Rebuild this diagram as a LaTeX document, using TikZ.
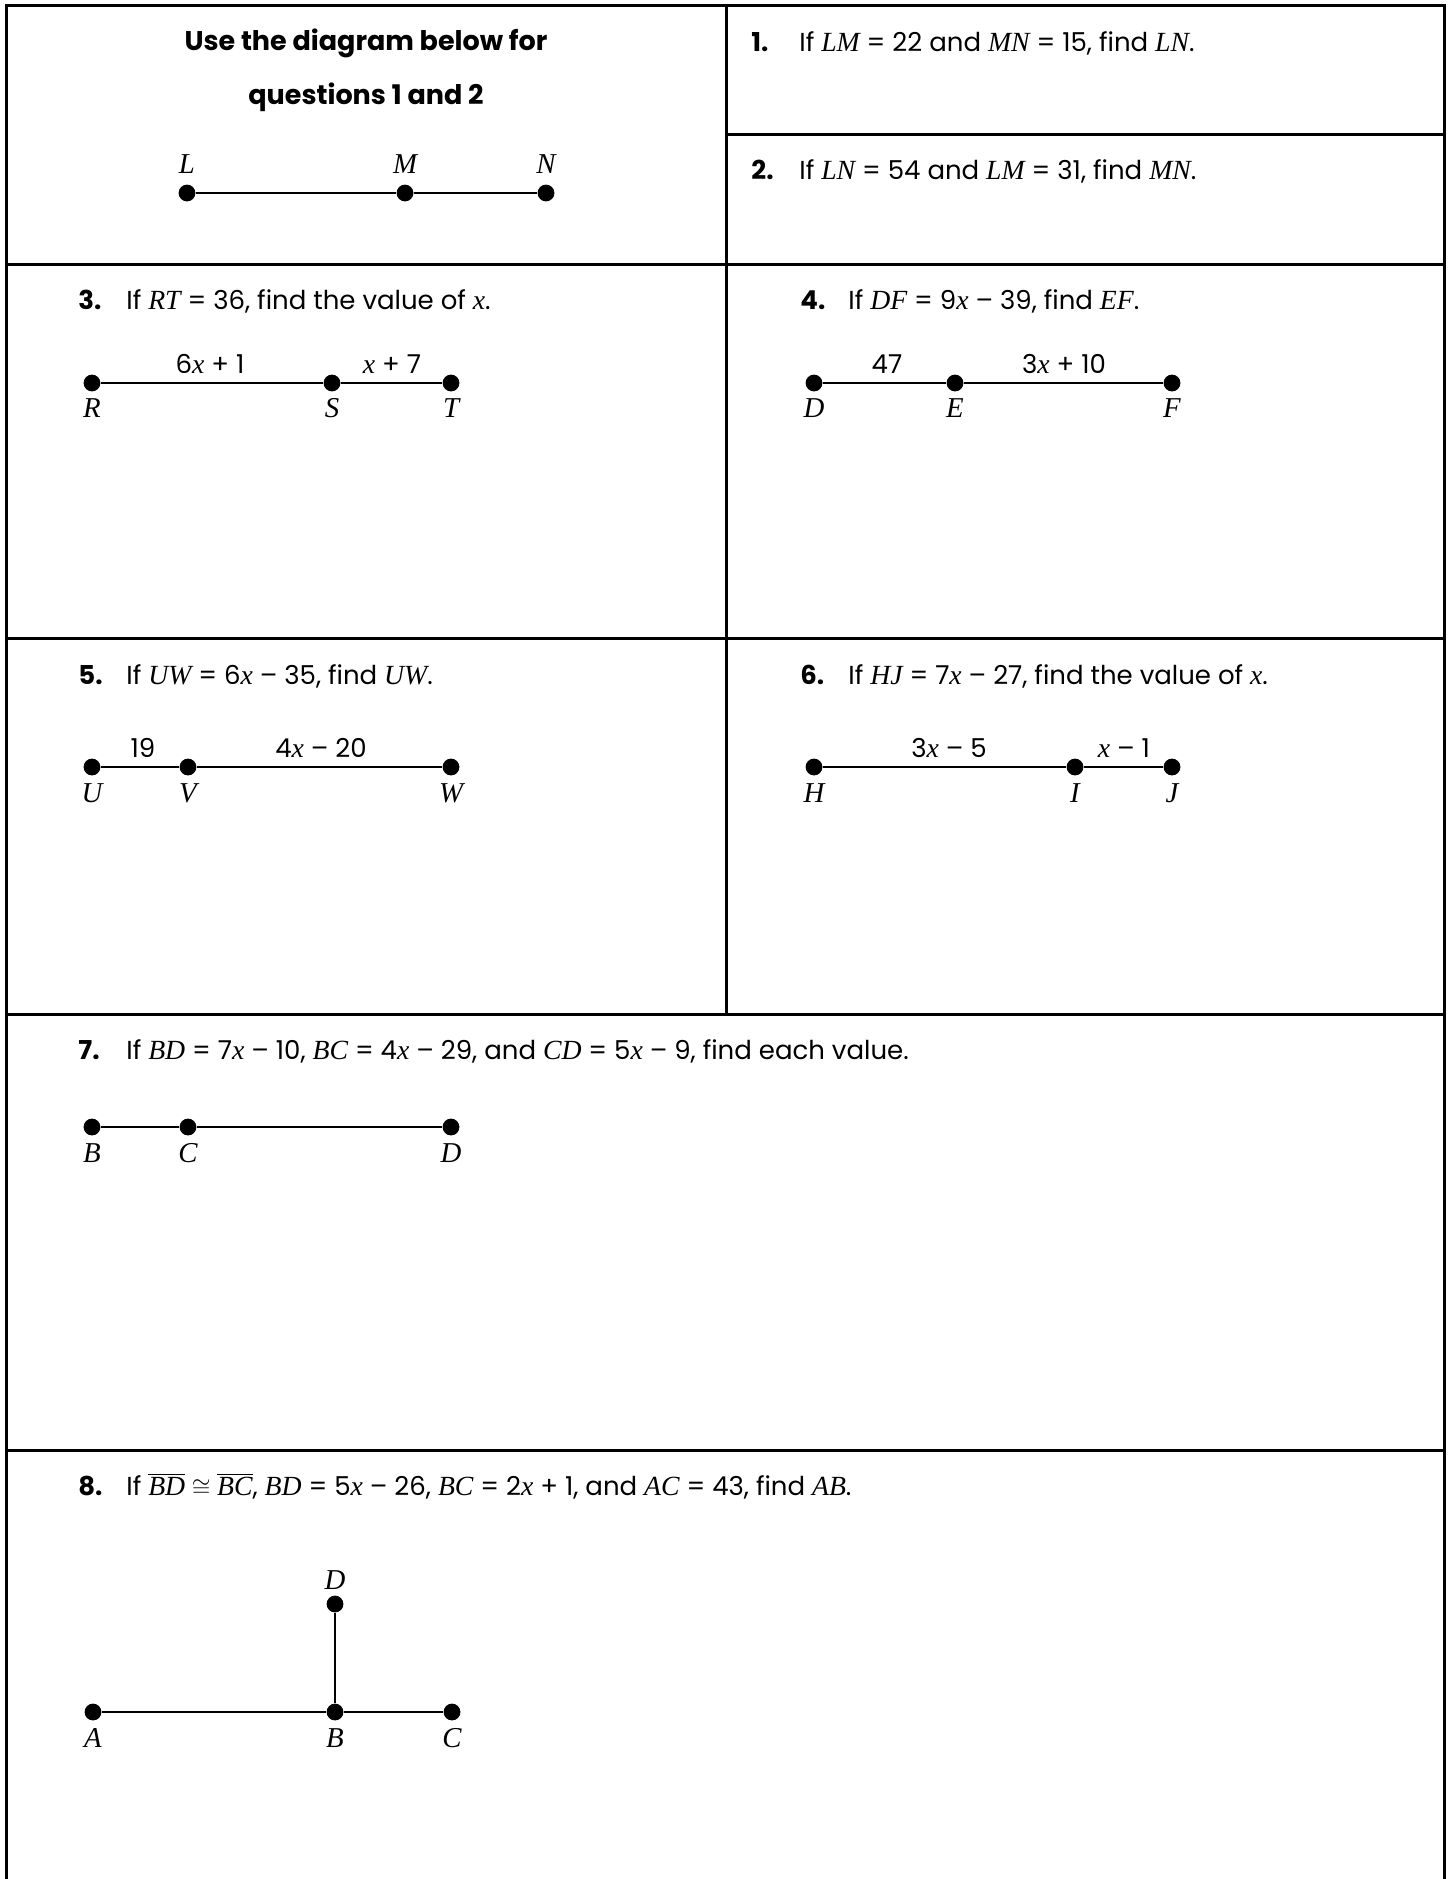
\documentclass[tikz,border=0pt]{standalone}
\usepackage{fontspec}
\setmainfont{Poppins}
\newfontfamily\varfont[Scale=MatchUppercase]{Liberation Serif}
\usetikzlibrary{positioning}
\newcommand{\var}[1]{{\varfont\itshape #1}}
\newcommand{\qnum}[1]{\makebox[24pt][l]{\bfseries #1}}

\begin{document}
\begin{tikzpicture}[x=0.5pt,y=-0.5pt,
        grid/.style={line width=1.5pt},
        dot/.style={circle,fill=black,inner sep=0pt,minimum size=8.4pt},
        seg/.style={line width=1pt},
        ptlab/.style={font=\fontsize{13.5}{15}\selectfont\varfont\itshape,inner sep=0pt},
        seglab/.style={font=\fontsize{13}{15}\selectfont,inner sep=0pt},
        qtext/.style={anchor=west,font=\fontsize{13}{15}\selectfont,inner sep=0pt},
        head/.style={font=\fontsize{13.5}{16}\selectfont\bfseries,inner sep=0pt}]
        \useasboundingbox (0,0) rectangle (1449,1879);
        % table lines
        \draw[grid] (6.7,1879) -- (6.7,5.7) -- (1444.7,5.7) -- (1444.7,1879);
        \draw[grid] (726,5.7) -- (726,1014);
        \draw[grid] (726,134) -- (1444.7,134);
        \draw[grid] (6.7,264) -- (1444.7,264);
        \draw[grid] (6.7,638) -- (1444.7,638);
        \draw[grid] (6.7,1014) -- (1444.7,1014);
        \draw[grid] (6.7,1450) -- (1444.7,1450);
        % diagram for 1 and 2
        \node[head](h1) at (366,43){Use the diagram below for};
        \node[head](h2) at (366,97){questions 1 and 2};
        \node[dot](L) at (187,193){};
        \node[dot](M) at (405,193){};
        \node[dot](N) at (546,193){};
        \node[ptlab](Ll) at (187,164){L};
        \node[ptlab](Ml) at (405,164){M};
        \node[ptlab](Nl) at (546,164){N};
        \draw[seg](L)--(M);\draw[seg](M)--(N);
        % 1 and 2
        \node[qtext](q1) at (751,43){\qnum{1.}If \var{LM} = 22 and \var{MN} = 15, find \var{LN}.};
        \node[qtext](q2) at (751,171){\qnum{2.}If \var{LN} = 54 and \var{LM} = 31, find \var{MN}.};
        % 3
        \node[qtext](q3) at (78,301){\qnum{3.}If \var{RT} = 36, find the value of \var{x}.};
        \node[dot](R) at (92,383){};
        \node[dot](S) at (332,383){};
        \node[dot](T) at (451,383){};
        \node[ptlab](Rl) at (92,408){R};
        \node[ptlab](Sl) at (332,408){S};
        \node[ptlab](Tl) at (451,408){T};
        \node[seglab](rs) at (210,364){6\var{x} + 1};
        \node[seglab](st) at (392,364){\var{x} + 7};
        \draw[seg](R)--(S);\draw[seg](S)--(T);
        % 4
        \node[qtext](q4) at (800,301){\qnum{4.}If \var{DF} = 9\var{x} -- 39, find \var{EF}.};
        \node[dot](D4) at (814,383){};
        \node[dot](E4) at (955,383){};
        \node[dot](F4) at (1172,383){};
        \node[ptlab](D4l) at (814,408){D};
        \node[ptlab](E4l) at (955,408){E};
        \node[ptlab](F4l) at (1172,408){F};
        \node[seglab](de) at (887,364){47};
        \node[seglab](ef) at (1064,364){3\var{x} + 10};
        \draw[seg](D4)--(E4);\draw[seg](E4)--(F4);
        % 5
        \node[qtext](q5) at (78,676){\qnum{5.}If \var{UW} = 6\var{x} -- 35, find \var{UW}.};
        \node[dot](U) at (92,767){};
        \node[dot](V) at (188,767){};
        \node[dot](W) at (451,767){};
        \node[ptlab](Ul) at (92,793){U};
        \node[ptlab](Vl) at (188,793){V};
        \node[ptlab](Wl) at (451,793){W};
        \node[seglab](uv) at (143,748){19};
        \node[seglab](vw) at (321,748){4\var{x} -- 20};
        \draw[seg](U)--(V);\draw[seg](V)--(W);
        % 6
        \node[qtext](q6) at (800,676){\qnum{6.}If \var{HJ} = 7\var{x} -- 27, find the value of \var{x}.};
        \node[dot](H) at (814,767){};
        \node[dot](I) at (1075,767){};
        \node[dot](J) at (1172,767){};
        \node[ptlab](Hl) at (814,793){H};
        \node[ptlab](Il) at (1075,793){I};
        \node[ptlab](Jl) at (1172,793){J};
        \node[seglab](hi) at (949,748){3\var{x} -- 5};
        \node[seglab](ij) at (1124,748){\var{x} -- 1};
        \draw[seg](H)--(I);\draw[seg](I)--(J);
        % 7
        \node[qtext](q7) at (78,1051){\qnum{7.}If \var{BD} = 7\var{x} -- 10, \var{BC} = 4\var{x} -- 29, and \var{CD} = 5\var{x} -- 9, find each value.};
        \node[dot](B7) at (92,1127){};
        \node[dot](C7) at (188,1127){};
        \node[dot](D7) at (451,1127){};
        \node[ptlab](B7l) at (92,1153){B};
        \node[ptlab](C7l) at (188,1153){C};
        \node[ptlab](D7l) at (451,1153){D};
        \draw[seg](B7)--(C7);\draw[seg](C7)--(D7);
        % 8
        \node[qtext](q8) at (78,1486){\qnum{8.}If $\overline{\hbox{\var{BD}}}\cong\overline{\hbox{\var{BC}}}$, \var{BD} = 5\var{x} -- 26, \var{BC} = 2\var{x} + 1, and \var{AC} = 43, find \var{AB}.};
        \node[dot](A8) at (93,1712){};
        \node[dot](B8) at (335,1712){};
        \node[dot](C8) at (452,1712){};
        \node[dot](D8) at (335,1604){};
        \node[ptlab](A8l) at (93,1738){A};
        \node[ptlab](B8l) at (335,1738){B};
        \node[ptlab](C8l) at (452,1738){C};
        \node[ptlab](D8l) at (335,1580){D};
        \draw[seg](A8)--(B8);\draw[seg](B8)--(C8);\draw[seg](B8)--(D8);
      \end{tikzpicture}
\end{document}
